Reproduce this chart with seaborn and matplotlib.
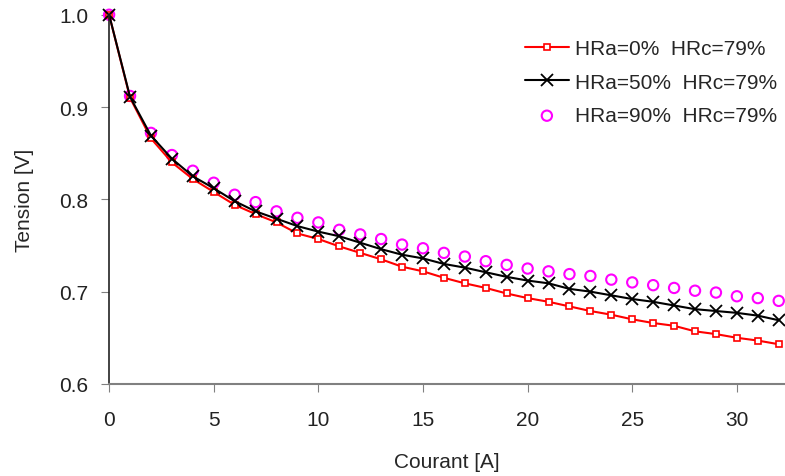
import matplotlib
matplotlib.use("Agg")
import matplotlib.pyplot as plt
import seaborn as sns

# courant [A]
courant = list(range(0, 33))

# tension [V] for each humidity setting
v_hra0 = [1.000, 0.910, 0.866, 0.840, 0.822, 0.808, 0.794, 0.784, 0.775, 0.763,
          0.757, 0.749, 0.742, 0.735, 0.727, 0.722, 0.715, 0.709, 0.704, 0.698,
          0.693, 0.689, 0.684, 0.679, 0.675, 0.670, 0.666, 0.663, 0.657, 0.654,
          0.650, 0.647, 0.643]
v_hra50 = [1.000, 0.911, 0.869, 0.844, 0.825, 0.812, 0.798, 0.787, 0.779, 0.771,
           0.765, 0.760, 0.753, 0.746, 0.740, 0.736, 0.730, 0.726, 0.721, 0.716,
           0.712, 0.709, 0.703, 0.700, 0.696, 0.692, 0.689, 0.685, 0.681, 0.679,
           0.677, 0.674, 0.669]
v_hra90 = [1.000, 0.912, 0.872, 0.848, 0.831, 0.818, 0.805, 0.797, 0.787, 0.780,
           0.775, 0.767, 0.762, 0.757, 0.751, 0.747, 0.742, 0.738, 0.733, 0.729,
           0.725, 0.722, 0.719, 0.717, 0.713, 0.710, 0.707, 0.704, 0.701, 0.699,
           0.695, 0.693, 0.690]

labels = ["HRa=0%  HRc=79%", "HRa=50%  HRc=79%", "HRa=90%  HRc=79%"]

sns.set_style("ticks")
plt.rcParams["font.family"] = ["Liberation Sans", "DejaVu Sans"]

fig = plt.figure(figsize=(7.85, 4.77), dpi=100)
ax = fig.add_axes([0.139, 0.193, 0.861, 0.774])

sns.lineplot(x=courant, y=v_hra0, ax=ax, color="red", lw=1.5, marker="s",
             markersize=4.5, markerfacecolor="white", markeredgecolor="red",
             markeredgewidth=1.2, label=labels[0], clip_on=False)
sns.lineplot(x=courant, y=v_hra50, ax=ax, color="black", lw=1.5, marker="x",
             markersize=9, markeredgewidth=1.3, markeredgecolor="black",
             label=labels[1], clip_on=False)
sns.scatterplot(x=courant, y=v_hra90, ax=ax, marker="o", s=55,
                facecolors="none", edgecolor="magenta", linewidth=1.5,
                label=labels[2], clip_on=False)

ax.set_xlim(0, 32.3)
ax.set_ylim(0.6, 1.0)
ax.set_xticks([0, 5, 10, 15, 20, 25, 30])
ax.set_yticks([0.6, 0.7, 0.8, 0.9, 1.0])
ax.set_yticklabels(["0.6", "0.7", "0.8", "0.9", "1.0"])
ax.set_xlabel("Courant [A]", fontsize=15, labelpad=16)
ax.set_ylabel("Tension [V]", fontsize=15, labelpad=18)
ax.tick_params(axis="both", labelsize=15, colors="#222222", length=6)
ax.tick_params(axis="x", pad=13, color="#808080")
ax.tick_params(axis="y", pad=9, color="#808080")

sns.despine(ax=ax)
ax.spines["left"].set_color("#222222")
ax.spines["bottom"].set_color("#808080")
ax.spines["left"].set_linewidth(1.2)
ax.spines["bottom"].set_linewidth(1.5)

ax.legend(loc="upper left", bbox_to_anchor=(525 / 785, 1 - 40 / 477),
          bbox_transform=fig.transFigure, frameon=False, fontsize=15,
          borderpad=0, borderaxespad=0, handlelength=2.1, handletextpad=0.3,
          labelspacing=0.7)

fig.savefig("out.png", dpi=100)
